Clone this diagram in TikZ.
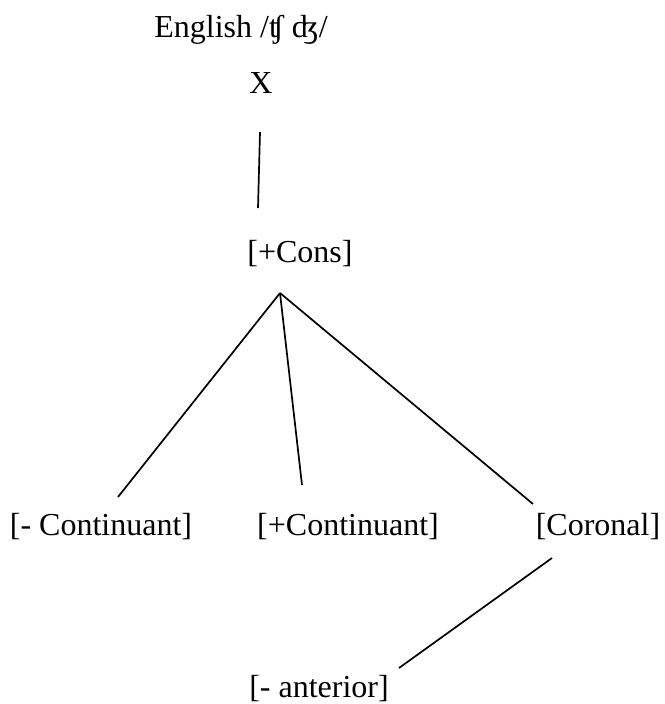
\documentclass[tikz,border=0pt]{standalone}
\usepackage{fontspec}
\setmainfont{Liberation Serif}
\begin{document}
\begin{tikzpicture}[x=1pt,y=-1pt,
  feat/.style={anchor=base,inner sep=0pt,font=\fontsize{32}{38}\selectfont},
  branch/.style={line width=1.7pt}]
\useasboundingbox (0,0) rectangle (664,704);
% labels
\node[feat] (title) at (241,37) {English /ʧ ʤ/};
\node[feat] (x) at (261,93) {X};
\node[feat] (cons) at (300,262) {[+Cons]};
\node[feat] (mcont) at (101,535) {[- Continuant]};
\node[feat] (pcont) at (348,535) {[+Continuant]};
\node[feat] (cor) at (598,535) {[Coronal]};
\node[feat] (ant) at (319,697) {[- anterior]};
% line ends
\coordinate (xb) at (260,132);
\coordinate (ct) at (258,208);
\coordinate (apex) at (280,293);
\coordinate (mct) at (118,497);
\coordinate (pct) at (302,485);
\coordinate (cort) at (533,504);
\coordinate (corb) at (552,558);
\coordinate (antt) at (399,668);
% branches
\draw[branch] (xb) -- (ct);
\draw[branch] (apex) -- (mct);
\draw[branch] (apex) -- (pct);
\draw[branch] (apex) -- (cort);
\draw[branch] (corb) -- (antt);
\end{tikzpicture}
\end{document}
